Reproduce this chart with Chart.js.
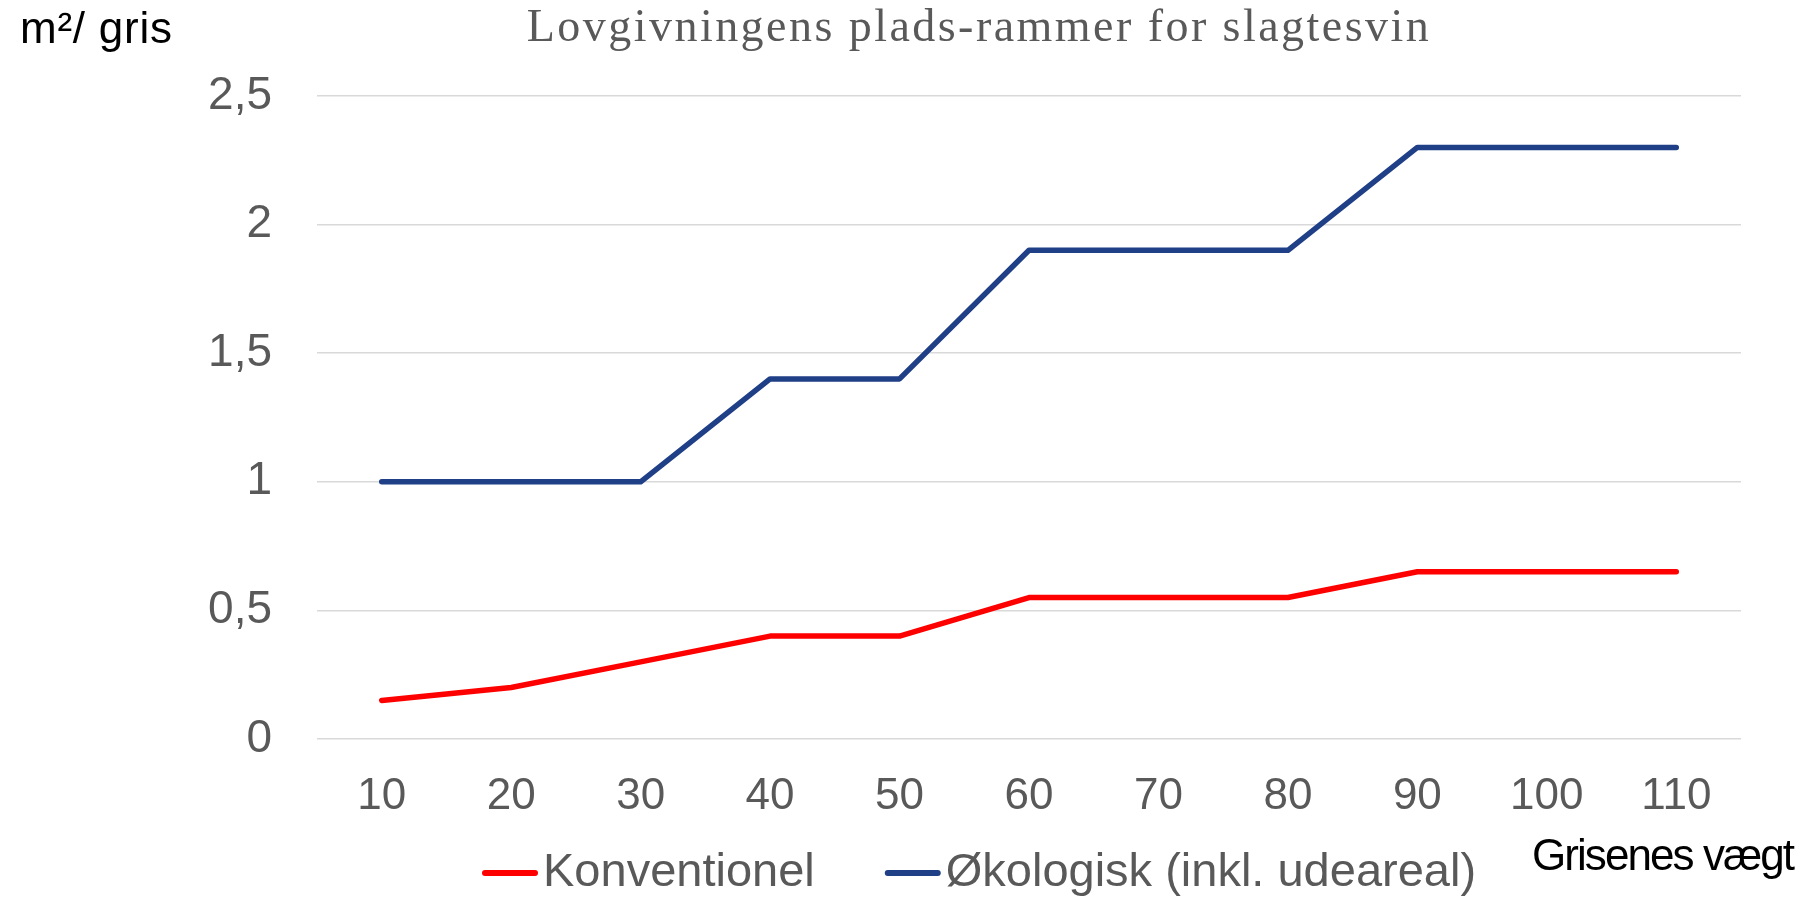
<!DOCTYPE html>
<html lang="da">
<head>
<meta charset="utf-8">
<title>Lovgivningens plads-rammer for slagtesvin</title>
<script src="https://cdn.jsdelivr.net/npm/chart.js@4.4.1/dist/chart.umd.min.js"></script>
<style>
  html, body { margin: 0; padding: 0; background: #fff; }
  #wrap { width: 1808px; height: 901px; }
</style>
</head>
<body>
<div id="wrap"><canvas id="grafik" width="1808" height="901"></canvas></div>
<script>
// =====================
// Data
// =====================
const vaegt = ["10", "20", "30", "40", "50", "60", "70", "80", "90", "100", "110"];
const konventionel = [0.15, 0.2, 0.3, 0.4, 0.4, 0.55, 0.55, 0.55, 0.65, 0.65, 0.65];
const oekologisk = [1, 1, 1, 1.4, 1.4, 1.9, 1.9, 1.9, 2.3, 2.3, 2.3];

const titel = "Lovgivningens plads-rammer for slagtesvin";
const yEnhed = "m²/ gris";
const xTitel = "Grisenes vægt";

const graa = "#595959";
const sans = "'Liberation Sans', Arial, sans-serif";

// =====================
// Hjælpefunktion til tekst
// =====================
function tegnTekst(ctx, tekst, x, y, font, farve, align, bredde) {
  ctx.save();
  ctx.font = font;
  ctx.fillStyle = farve;
  ctx.textAlign = "left";
  ctx.textBaseline = "alphabetic";
  if (bredde && "letterSpacing" in ctx) {
    const w0 = ctx.measureText(tekst).width;
    ctx.letterSpacing = ((bredde - w0) / (tekst.length - 1)).toFixed(2) + "px";
  }
  const w = ctx.measureText(tekst).width;
  const x0 = align === "center" ? x - w / 2 : x;
  ctx.fillText(tekst, x0, y);
  ctx.restore();
  return w;
}

// Titel, enhed og x-titel
const ekstraTekster = {
  id: "ekstraTekster",
  afterDraw(chart) {
    const ctx = chart.ctx;
    tegnTekst(ctx, titel, 979, 41, "46px 'Liberation Serif', 'Times New Roman', serif", graa, "center", 902);
    tegnTekst(ctx, yEnhed, 20, 43, "44px " + sans, "#000", "left", 152);
    tegnTekst(ctx, xTitel, 1532, 870, "44px " + sans, "#000", "left", 263);
  }
};

// Forklaring nederst (linje + tekst for hver serie)
const forklaring = {
  id: "forklaring",
  afterDraw(chart) {
    const ctx = chart.ctx;
    const yMidt = 873;
    let x = 482;
    chart.data.datasets.forEach((ds) => {
      ctx.save();
      ctx.strokeStyle = ds.borderColor;
      ctx.lineWidth = 6;
      ctx.lineCap = "round";
      ctx.beginPath();
      ctx.moveTo(x + 3, yMidt);
      ctx.lineTo(x + 53, yMidt);
      ctx.stroke();
      ctx.font = "47px " + sans;
      ctx.fillStyle = graa;
      ctx.textBaseline = "middle";
      ctx.fillText(ds.label, x + 61, yMidt);
      const w = ctx.measureText(ds.label).width;
      ctx.restore();
      x = x + 61 + w + 70;
    });
  }
};

// =====================
// Graf
// =====================
const ctx = document.getElementById("grafik");
new Chart(ctx, {
  type: "line",
  data: {
    labels: vaegt,
    datasets: [
      {
        label: "Konventionel",
        data: konventionel,
        borderColor: "#FF0000",
        backgroundColor: "#FF0000",
        borderWidth: 5.5,
        pointRadius: 0,
        tension: 0,
        borderCapStyle: "round",
        borderJoinStyle: "round"
      },
      {
        label: "Økologisk (inkl. udeareal)",
        data: oekologisk,
        borderColor: "#1F3F86",
        backgroundColor: "#1F3F86",
        borderWidth: 5.5,
        pointRadius: 0,
        tension: 0,
        borderCapStyle: "round",
        borderJoinStyle: "round"
      }
    ]
  },
  options: {
    responsive: false,
    animation: false,
    layout: { padding: { left: 208, right: 67, top: 96, bottom: 47 } },
    plugins: {
      title: { display: false },
      legend: { display: false },
      tooltip: { enabled: false }
    },
    scales: {
      x: {
        offset: true,
        grid: { display: false, drawTicks: false },
        border: { display: false },
        ticks: {
          color: graa,
          padding: 35.5,
          maxRotation: 0,
          autoSkip: false,
          font: { family: sans, size: 44, lineHeight: 1 }
        }
      },
      y: {
        min: 0,
        max: 2.5,
        afterFit: (scale) => { scale.width = 109; },
        grid: { color: "#D9D9D9", lineWidth: 1.5, drawTicks: false },
        border: { display: false },
        ticks: {
          stepSize: 0.5,
          color: graa,
          padding: 45,
          font: { family: sans, size: 46 },
          callback: (v) => String(v).replace(".", ",")
        }
      }
    }
  },
  plugins: [ekstraTekster, forklaring]
});
</script>
</body>
</html>
